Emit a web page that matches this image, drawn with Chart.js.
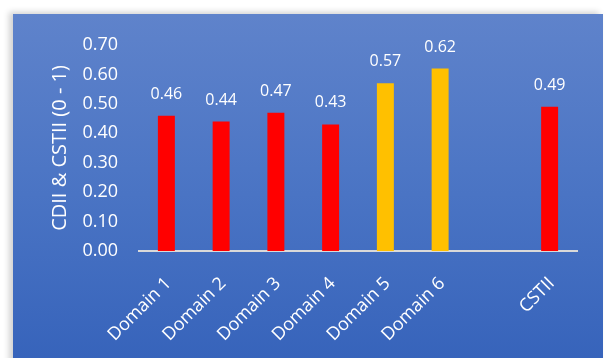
<!DOCTYPE html>
<html>
<head>
<meta charset="utf-8">
<script src="https://cdn.jsdelivr.net/npm/chart.js@4.4.0/dist/chart.umd.min.js"></script>
<style>
  html, body { margin: 0; padding: 0; background: #ffffff; width: 605px; height: 358px; overflow: hidden; }
  #panel { position: absolute; left: 13px; top: 14px; width: 590px; height: 360px;
    background: linear-gradient(to bottom, #5F83CB 0%, #4A74C4 50%, #3562BA 100%);
    box-shadow: -4px -2px 6px rgba(0,0,0,0.18); }
  #wrap { position: absolute; left: 0; top: 0; width: 605px; height: 358px; }
</style>
</head>
<body>
<div id="panel"></div>
<div id="wrap"><canvas id="c" width="605" height="358"></canvas></div>
<script>
const categories = ["Domain 1", "Domain 2", "Domain 3", "Domain 4", "Domain 5", "Domain 6", "", "CSTII"];
const values = [0.46, 0.44, 0.47, 0.43, 0.57, 0.62, null, 0.49];
const barColors = ["#FF0000", "#FF0000", "#FF0000", "#FF0000", "#FFC000", "#FFC000", "#FF0000", "#FF0000"];
const yTicks = [0, 0.1, 0.2, 0.3, 0.4, 0.5, 0.6, 0.7];
const yTitle = "CDII & CSTII (0 - 1)";

const FONT = "'Open Sans', 'Noto Sans', sans-serif";

const dataLabels = {
  id: 'dataLabels',
  afterDatasetsDraw(chart) {
    const ctx = chart.ctx;
    const meta = chart.getDatasetMeta(0);
    ctx.save();
    ctx.fillStyle = '#FFFFFF';
    ctx.font = "16px " + FONT;
    ctx.textAlign = 'center';
    ctx.textBaseline = 'alphabetic';
    meta.data.forEach((bar, i) => {
      const v = values[i];
      if (v === null || v === undefined) return;
      ctx.fillText(v.toFixed(2), bar.x, bar.y - 17);
    });
    ctx.restore();
  }
};

const chart = new Chart(document.getElementById('c'), {
  type: 'bar',
  data: {
    labels: categories,
    datasets: [{
      data: values,
      backgroundColor: barColors,
      borderWidth: 0,
      barPercentage: 0.31,
      categoryPercentage: 1.0
    }]
  },
  options: {
    responsive: false,
    animation: false,
    devicePixelRatio: 1,
    layout: { padding: { left: 48, right: 28, top: 45, bottom: 0 } },
    plugins: { legend: { display: false }, tooltip: { enabled: false } },
    scales: {
      x: {
        grid: { display: false, drawTicks: false },
        border: { display: true, color: '#D9D9D9', width: 2 },
        ticks: {
          color: '#FFFFFF', font: { family: FONT, size: 18 },
          minRotation: 45, maxRotation: 45, autoSkip: false, padding: 22, labelOffset: 2
        },
        afterFit(scale) { scale.height = 107; }
      },
      y: {
        min: 0, max: 0.7,
        afterBuildTicks(scale) { scale.ticks = yTicks.map(v => ({ value: v })); },
        grid: { display: false, drawTicks: false },
        border: { display: false },
        ticks: {
          color: '#FFFFFF', font: { family: FONT, size: 18 }, padding: 21,
          callback: (v) => Number(v).toFixed(2)
        },
        title: {
          display: true, text: yTitle, color: '#FFFFFF',
          font: { family: FONT, size: 20 }, padding: 0
        },
        afterFit(scale) { scale.width = 91; }
      }
    }
  },
  plugins: [dataLabels]
});
if (document.fonts && document.fonts.load) {
  Promise.all([
    document.fonts.load("18px 'Open Sans'"),
    document.fonts.load("20px 'Open Sans'")
  ]).then(() => chart.update()).catch(() => {});
}
</script>
</body>
</html>
